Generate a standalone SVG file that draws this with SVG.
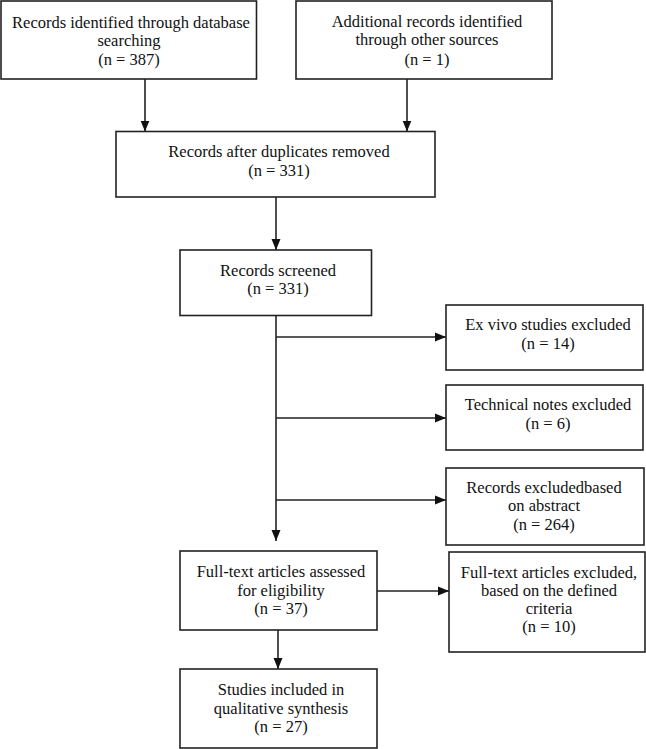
<svg xmlns="http://www.w3.org/2000/svg" width="646" height="749" viewBox="0 0 646 749">
<style>
.box{fill:#fff;stroke:#222;stroke-width:1.6}
.t{font-family:"Liberation Serif","Times New Roman",serif;font-size:16.5px;fill:#111;text-anchor:middle}
.c{stroke:#222;stroke-width:1.6;fill:none}
</style>
<defs>
<marker id="ah" markerUnits="userSpaceOnUse" markerWidth="12" markerHeight="12" viewBox="0 0 12 12" refX="11" refY="6" orient="auto">
<path d="M0,1.5 L11,6 L0,10.5 Z" fill="#111"/>
</marker>
</defs>
<rect width="646" height="749" fill="#fff"/>
<g id="connectors">
<line class="c" x1="145" y1="79" x2="145" y2="131.5" marker-end="url(#ah)"/>
<line class="c" x1="407" y1="79" x2="407" y2="131.5" marker-end="url(#ah)"/>
<line class="c" x1="276" y1="197" x2="276" y2="250" marker-end="url(#ah)"/>
<line class="c" x1="276" y1="315.5" x2="276" y2="541" marker-end="url(#ah)"/>
<line class="c" x1="276" y1="337" x2="446" y2="337" marker-end="url(#ah)"/>
<line class="c" x1="276" y1="418" x2="446" y2="418" marker-end="url(#ah)"/>
<line class="c" x1="276" y1="500" x2="446" y2="500" marker-end="url(#ah)"/>
<line class="c" x1="377" y1="591" x2="449" y2="591" marker-end="url(#ah)"/>
<line class="c" x1="278" y1="630" x2="278" y2="669" marker-end="url(#ah)"/>
</g>
<g id="n1">
<rect class="box" x="1" y="1" width="255.5" height="78"/>
<text class="t" x="131" y="27.5">Records identified through database</text>
<text class="t" x="129" y="45.5">searching</text>
<text class="t" x="129" y="64.5">(n = 387)</text>
</g>
<g id="n2">
<rect class="box" x="296" y="1" width="256" height="78"/>
<text class="t" x="427" y="27">Additional records identified</text>
<text class="t" x="427" y="45">through other sources</text>
<text class="t" x="427" y="64.5">(n = 1)</text>
</g>
<g id="n3">
<rect class="box" x="116" y="131.5" width="319" height="65.5"/>
<text class="t" x="279" y="157">Records after duplicates removed</text>
<text class="t" x="279" y="175.5">(n = 331)</text>
</g>
<g id="n4">
<rect class="box" x="180" y="250" width="191.5" height="65.5"/>
<text class="t" x="278" y="276">Records screened</text>
<text class="t" x="278" y="294">(n = 331)</text>
</g>
<g id="n5">
<rect class="box" x="446" y="305" width="197" height="65"/>
<text class="t" x="548" y="330">Ex vivo studies excluded</text>
<text class="t" x="548" y="349">(n = 14)</text>
</g>
<g id="n6">
<rect class="box" x="446" y="385" width="197" height="65"/>
<text class="t" x="548" y="410">Technical notes excluded</text>
<text class="t" x="548" y="429">(n = 6)</text>
</g>
<g id="n7">
<rect class="box" x="446" y="468" width="198" height="77"/>
<text class="t" x="544" y="493">Records excludedbased</text>
<text class="t" x="544" y="511">on abstract</text>
<text class="t" x="544" y="530">(n = 264)</text>
</g>
<g id="n8">
<rect class="box" x="180" y="551" width="197" height="79"/>
<text class="t" x="281" y="577">Full-text articles assessed</text>
<text class="t" x="281" y="595.5">for eligibility</text>
<text class="t" x="281" y="614">(n = 37)</text>
</g>
<g id="n9">
<rect class="box" x="449" y="552" width="196" height="100"/>
<text class="t" x="549" y="578">Full-text articles excluded,</text>
<text class="t" x="549" y="595.5">based on the defined</text>
<text class="t" x="549" y="613.5">criteria</text>
<text class="t" x="549" y="632">(n = 10)</text>
</g>
<g id="n10">
<rect class="box" x="180" y="669" width="197" height="79"/>
<text class="t" x="281" y="695">Studies included in</text>
<text class="t" x="281" y="713.5">qualitative synthesis</text>
<text class="t" x="281" y="732">(n = 27)</text>
</g>
</svg>
